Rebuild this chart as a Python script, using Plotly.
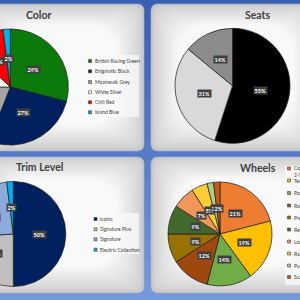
import numpy as np
import plotly.graph_objects as go

# ---------------- data ----------------
color_labels = ["British Racing Green", "Enigmatic Black", "Moonwalk Grey",
                "White Silver", "Chili Red", "Island Blue"]
color_pct = [29, 27, 19, 12, 11, 2]

seat_labels = ["Carbon Black", "Light Grey", "Black/Grey"]
seat_pct = [55, 31, 14]

trim_labels = ["Iconic", "Signature Plus", "Signature", "Electric Collection"]
trim_pct = [50, 24, 24, 2]

wheel_labels = ["Cosmos Spoke 2-Tone", "Tentacle Spoke", "Power Spoke", "Roulette Spoke",
                "Propeller Spoke", "Revolite Spoke", "Loop Spoke", "Rail Spoke",
                "Pulse Spoke", "Scale Spoke"]
wheel_pct = [21, 19, 14, 12, 9, 9, 7, 5, 2, 2]

# ---------------- styles ----------------
color_colors = ["#0B7A0B", "#002060", "#A6A6A6", "#FFFFFF", "#FF0000", "#00B0F0"]
seat_colors = ["#000000", "#D9D9D9", "#8C8C8C"]
trim_colors = ["#002060", "#BFBFBF", "#8EA9DB", "#00B0F0"]
wheel_colors = ["#ED7D31", "#FFC000", "#70AD47", "#9E480E", "#997300",
                "#43682B", "#F1975A", "#FFCD33", "#A9D18E", "#C55A11"]

W = H = 300
FONT = "Lato"
EDGE = "#1A1A1A"


def X(px):
    return px / W


def Y(py):
    return 1 - py / H


def hexrgb(h):
    h = h.lstrip("#")
    return tuple(int(h[i:i + 2], 16) for i in (0, 2, 4))


def mix(c1, c2, t):
    a, b = hexrgb(c1), hexrgb(c2)
    return "rgb(%d,%d,%d)" % tuple(round(a[i] + (b[i] - a[i]) * t) for i in range(3))


def rrect_path(x0, y0, x1, y1, r):
    pts = [
        ("M", [(x0 + r, y0)]), ("L", [(x1 - r, y0)]), ("Q", [(x1, y0), (x1, y0 + r)]),
        ("L", [(x1, y1 - r)]), ("Q", [(x1, y1), (x1 - r, y1)]), ("L", [(x0 + r, y1)]),
        ("Q", [(x0, y1), (x0, y1 - r)]), ("L", [(x0, y0 + r)]), ("Q", [(x0, y0), (x0 + r, y0)]),
    ]
    s = ""
    for cmd, ps in pts:
        s += cmd + " ".join("%.5f,%.5f" % (X(a), Y(b)) for a, b in ps) + " "
    return s + "Z"


shapes = []
annotations = []

# blue background gradient
nb = 15
for i in range(nb):
    shapes.append(dict(type="rect", xref="paper", yref="paper", layer="below",
                       x0=0, x1=1, y0=Y((i + 1) * H / nb), y1=Y(i * H / nb),
                       fillcolor=mix("#3960B3", "#7399DD", i / (nb - 1)), line_width=0))

# panels with soft grey-to-white gradient
panels = [(-20, 4, 144, 151), (151, 4, 320, 151), (-20, 157, 144, 293), (151, 157, 320, 293)]
steps = 10
for (x0, y0, x1, y1) in panels:
    shapes.append(dict(type="path", xref="paper", yref="paper", layer="below",
                       path=rrect_path(x0, y0, x1, y1, 7), fillcolor="#CACACA",
                       line=dict(color="#A9B4C8", width=0.6)))
    for k in range(1, steps + 1):
        d = k * 2.6
        shapes.append(dict(type="path", xref="paper", yref="paper", layer="below",
                           path=rrect_path(x0 + d, y0 + d * 0.8, x1 - d, y1 - d, 7 + d),
                           fillcolor=mix("#CFCFCF", "#F9F9F9", k / steps), line_width=0))

# legend boxes
for (x0, y0, x1, y1) in [(85, 55, 139, 117), (92, 213, 139, 254), (285, 166, 305, 285)]:
    shapes.append(dict(type="rect", xref="paper", yref="paper", layer="below",
                       x0=X(x0), x1=X(x1), y0=Y(y1), y1=Y(y0),
                       fillcolor="rgba(250,250,250,0.75)", line_width=0))


def mid_angles(pct):
    out, s = [], 0
    for v in pct:
        out.append((s + v / 2) / 100 * 2 * np.pi)
        s += v
    return out


def add_labels(cx, cy, r, pct):
    for v, m in zip(pct, mid_angles(pct)):
        annotations.append(dict(xref="paper", yref="paper",
                                x=X(cx + 0.5 * r * np.sin(m)), y=Y(cy - 0.5 * r * np.cos(m)),
                                text="<b>%d%%</b>" % v, showarrow=False,
                                font=dict(family=FONT, size=5.5, color="white"),
                                bgcolor="#3F3F3F", borderpad=0.6,
                                xanchor="center", yanchor="middle"))


def poly_pie(cx, cy, r, pct, colors, names):
    traces, s = [], 0
    for v, c, n in zip(pct, colors, names):
        t = np.linspace(s / 100 * 2 * np.pi, (s + v) / 100 * 2 * np.pi, int(v * 2) + 3)
        xs = np.concatenate([[cx], cx + r * np.sin(t), [cx]])
        ys = np.concatenate([[cy], cy - r * np.cos(t), [cy]])
        traces.append(go.Scatter(x=xs, y=ys, fill="toself", fillcolor=c, mode="lines",
                                 line=dict(color=EDGE, width=0.7), name=n,
                                 hoverinfo="skip", showlegend=False))
        s += v
    return traces


def pie(cx, cy, r, pct, colors, names):
    return go.Pie(values=pct, labels=names, sort=False, direction="clockwise", rotation=0,
                  domain=dict(x=[X(cx - r), X(cx + r)], y=[Y(cy + r), Y(cy - r)]),
                  marker=dict(colors=colors, line=dict(color=EDGE, width=0.7)),
                  textinfo="none", hoverinfo="skip", showlegend=False)


def legend(x_sw, x_txt, ys, names, colors, wrap=None):
    for yy, n, c in zip(ys, names, colors):
        txt = n
        if wrap and len(n) > wrap:
            cut = n.rfind(" ", 0, wrap)
            txt = n[:cut] + "<br>" + n[cut + 1:]
        shapes.append(dict(type="rect", xref="paper", yref="paper", layer="above",
                           x0=X(x_sw), x1=X(x_sw + 3), y0=Y(yy + 1.5), y1=Y(yy - 1.5),
                           fillcolor=c, line=dict(color="#3F3F3F", width=0.6)))
        ty = yy + (3 if "<br>" in txt else 0)
        annotations.append(dict(xref="paper", yref="paper", x=X(x_txt), y=Y(ty),
                                text=txt, showarrow=False, align="left",
                                font=dict(family=FONT, size=5, color="#404040"),
                                xanchor="left", yanchor="middle"))


def title(cx, cy, text):
    annotations.append(dict(xref="paper", yref="paper", x=X(cx), y=Y(cy), text="<b>%s</b>" % text,
                            showarrow=False, font=dict(family=FONT, size=10.5, color="#404040"),
                            xanchor="center", yanchor="middle"))


fig = go.Figure()

# Color (cut off on the left)
for tr in poly_pie(10.3, 87, 58, color_pct, color_colors, color_labels):
    fig.add_trace(tr)
add_labels(10.3, 87, 58, color_pct)
legend(88.5, 92.5, [61, 71.3, 82, 92.3, 102.3, 112.3], color_labels, color_colors)
title(39.5, 15.5, "Color")

# Trim Level (cut off on the left)
for tr in poly_pie(13.3, 234, 52.5, trim_pct, trim_colors, trim_labels):
    fig.add_trace(tr)
add_labels(13.3, 234, 52.5, trim_pct)
legend(94, 98, [219, 229.3, 239.3, 249.7], trim_labels, trim_colors)
title(39.5, 167, "Trim Level")

# Seats
fig.add_trace(pie(232.5, 85.8, 57.5, seat_pct, seat_colors, seat_labels))
add_labels(232.5, 85.8, 57.5, seat_pct)
title(257.5, 15.5, "Seats")

# Wheels
fig.add_trace(pie(220, 234, 52, wheel_pct, wheel_colors, wheel_labels))
add_labels(220, 234, 52, wheel_pct)
legend(287.5, 292, [168.5, 180.5, 193, 205.5, 217.5, 229.5, 241.5, 253.5, 265.5, 277],
       wheel_labels, wheel_colors, wrap=15)
title(257.5, 168, "Wheels")

fig.update_layout(
    width=W, height=H, margin=dict(l=0, r=0, t=0, b=0, autoexpand=False),
    paper_bgcolor="#4A76C6", plot_bgcolor="rgba(0,0,0,0)", showlegend=False,
    xaxis=dict(range=[0, W], domain=[0, 1], visible=False, fixedrange=True),
    yaxis=dict(range=[H, 0], domain=[0, 1], visible=False, fixedrange=True),
    shapes=shapes, annotations=annotations,
)

fig.write_html("out.html")
